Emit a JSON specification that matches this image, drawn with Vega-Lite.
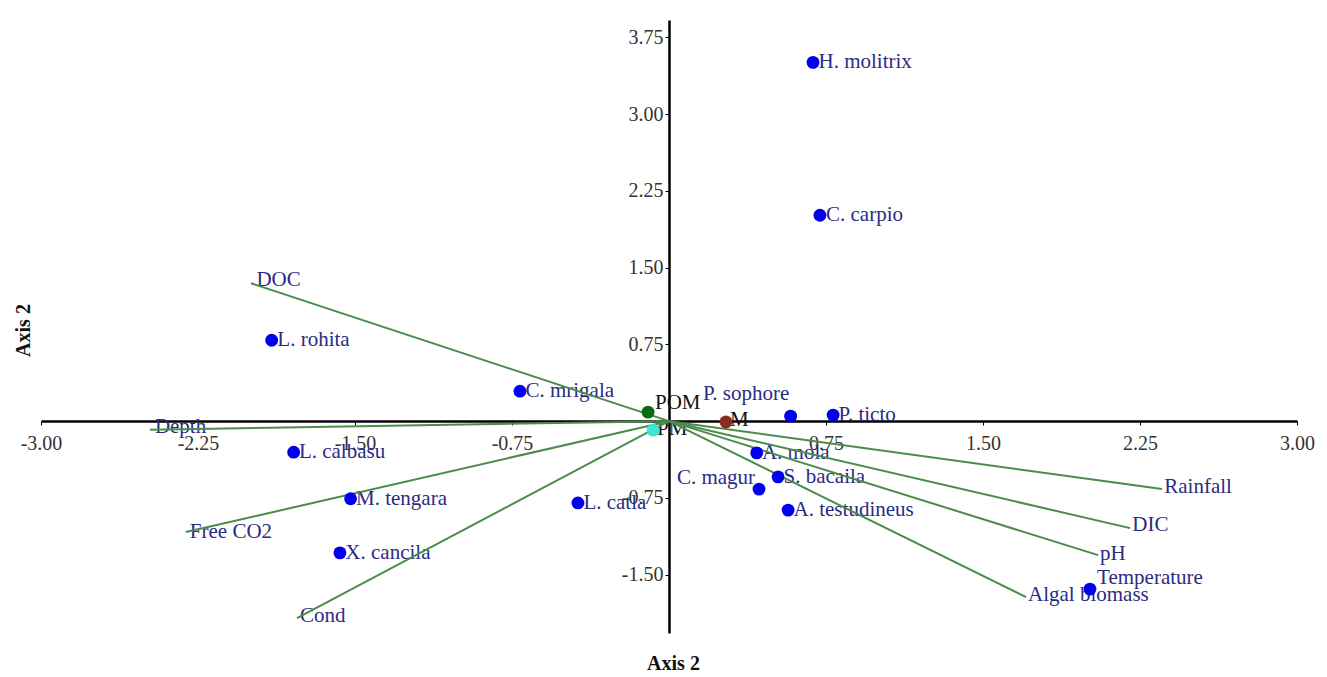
{
  "$schema": "https://vega.github.io/schema/vega-lite/v6.json",
  "width": 1256,
  "height": 613,
  "autosize": {"type": "none"},
  "padding": {"left": 41, "top": 20, "right": 30, "bottom": 44},
  "background": "white",
  "config": {"view": {"stroke": null}, "font": "Liberation Serif"},
  "datasets": {
    "vectors": [
      {"name": "DOC", "x": -1.997, "y": 1.348},
      {"name": "Depth", "x": -2.48, "y": -0.085},
      {"name": "Free CO2", "x": -2.308, "y": -1.084},
      {"name": "Cond", "x": -1.777, "y": -1.924},
      {"name": "Rainfall", "x": 2.355, "y": -0.664},
      {"name": "DIC", "x": 2.203, "y": -1.045},
      {"name": "pH", "x": 2.05, "y": -1.309},
      {"name": "Algal biomass", "x": 1.706, "y": -1.719}
    ],
    "species": [
      {"name": "H. molitrix", "x": 0.688, "y": 3.506},
      {"name": "C. carpio", "x": 0.721, "y": 2.012},
      {"name": "L. rohita", "x": -1.898, "y": 0.791},
      {"name": "C. mrigala", "x": -0.712, "y": 0.293},
      {"name": "P. sophore", "x": 0.581, "y": 0.049},
      {"name": "P. ticto", "x": 0.784, "y": 0.059},
      {"name": "A. mola", "x": 0.419, "y": -0.31},
      {"name": "S. bacaila", "x": 0.521, "y": -0.544},
      {"name": "C. magur", "x": 0.43, "y": -0.664},
      {"name": "A. testudineus", "x": 0.569, "y": -0.869},
      {"name": "L. calbasu", "x": -1.793, "y": -0.303},
      {"name": "M. tengara", "x": -1.521, "y": -0.758},
      {"name": "X. cancila", "x": -1.572, "y": -1.287},
      {"name": "L. catla", "x": -0.435, "y": -0.799},
      {"name": "Temperature", "x": 2.011, "y": -1.641}
    ],
    "sources": [
      {"name": "POM", "x": -0.1, "y": 0.088},
      {"name": "PM", "x": -0.076, "y": -0.088},
      {"name": "M", "x": 0.272, "y": -0.007}
    ],
    "labels": [
      {"text": "H. molitrix", "group": "species", "x": 0.714, "y": 3.506},
      {"text": "C. carpio", "group": "species", "x": 0.75, "y": 2.012},
      {"text": "L. rohita", "group": "species", "x": -1.871, "y": 0.791},
      {"text": "C. mrigala", "group": "species", "x": -0.686, "y": 0.293},
      {"text": "P. sophore", "group": "species", "x": 0.162, "y": 0.264},
      {"text": "P. ticto", "group": "species", "x": 0.81, "y": 0.059},
      {"text": "A. mola", "group": "species", "x": 0.444, "y": -0.31},
      {"text": "S. bacaila", "group": "species", "x": 0.547, "y": -0.544},
      {"text": "C. magur", "group": "species", "x": 0.038, "y": -0.554},
      {"text": "A. testudineus", "group": "species", "x": 0.595, "y": -0.869},
      {"text": "L. calbasu", "group": "species", "x": -1.768, "y": -0.303},
      {"text": "M. tengara", "group": "species", "x": -1.495, "y": -0.758},
      {"text": "X. cancila", "group": "species", "x": -1.546, "y": -1.287},
      {"text": "L. catla", "group": "species", "x": -0.409, "y": -0.799},
      {"text": "Temperature", "group": "species", "x": 2.045, "y": -1.533},
      {"text": "DOC", "group": "vector", "x": -1.971, "y": 1.377},
      {"text": "Depth", "group": "vector", "x": -2.456, "y": -0.059},
      {"text": "Free CO2", "group": "vector", "x": -2.289, "y": -1.084},
      {"text": "Cond", "group": "vector", "x": -1.763, "y": -1.904},
      {"text": "Rainfall", "group": "vector", "x": 2.366, "y": -0.645},
      {"text": "DIC", "group": "vector", "x": 2.213, "y": -1.016},
      {"text": "pH", "group": "vector", "x": 2.059, "y": -1.299},
      {"text": "Algal biomass", "group": "vector", "x": 1.715, "y": -1.699},
      {"text": "POM", "group": "source", "x": -0.067, "y": 0.176},
      {"text": "PM", "group": "source", "x": -0.057, "y": -0.078},
      {"text": "M", "group": "source", "x": 0.291, "y": 0.01}
    ]
  },
  "encoding": {
    "x": {
      "field": "x",
      "type": "quantitative",
      "scale": {"domain": [-3, 3], "nice": false, "zero": false},
      "axis": {
        "offset": -212,
        "values": [-3, -2.25, -1.5, -0.75, 0, 0.75, 1.5, 2.25, 3],
        "labelExpr": "datum.value === 0 ? '' : replace(format(datum.value, '.2f'), '\u2212', '-')",
        "grid": false,
        "domainColor": "#000000",
        "domainWidth": 2.5,
        "tickColor": "#000000",
        "tickSize": 4,
        "labelPadding": 8,
        "labelFont": "Liberation Serif",
        "labelFontSize": 20,
        "labelColor": "#333333",
        "labelAngle": 0,
        "labelOverlap": false,
        "labelFlush": false,
        "labelBound": false,
        "title": "Axis 2",
        "titleFont": "Liberation Serif",
        "titleFontSize": 20,
        "titleFontWeight": "bold",
        "titleColor": "#111111",
        "titleX": 632,
        "titleY": 242,
        "titleAlign": "center",
        "titleBaseline": "middle"
      }
    },
    "y": {
      "field": "y",
      "type": "quantitative",
      "scale": {"domain": [-2.07, 3.92], "nice": false, "zero": false},
      "axis": {
        "offset": -628,
        "values": [-1.5, -0.75, 0, 0.75, 1.5, 2.25, 3, 3.75],
        "labelExpr": "datum.value === 0 ? '' : replace(format(datum.value, '.2f'), '\u2212', '-')",
        "grid": false,
        "domainColor": "#000000",
        "domainWidth": 2.5,
        "tickColor": "#000000",
        "tickSize": 4,
        "labelPadding": 2,
        "labelFont": "Liberation Serif",
        "labelFontSize": 20,
        "labelColor": "#333333",
        "labelOverlap": false,
        "labelFlush": false,
        "labelBound": false,
        "title": "Axis 2",
        "titleFont": "Liberation Serif",
        "titleFontSize": 20,
        "titleFontWeight": "bold",
        "titleColor": "#111111",
        "titleX": -646,
        "titleY": 310,
        "titleAngle": -90,
        "titleAlign": "center",
        "titleBaseline": "middle"
      }
    }
  },
  "resolve": {"scale": {"color": "independent"}},
  "layer": [
    {
      "data": {"name": "labels"},
      "mark": {"type": "text", "align": "left", "baseline": "middle", "font": "Liberation Serif", "fontSize": 21},
      "encoding": {
        "text": {"field": "text", "type": "nominal"},
        "color": {
          "field": "group",
          "type": "nominal",
          "scale": {"domain": ["species", "vector", "source"], "range": ["#2b2b82", "#2b2b82", "#111111"]},
          "legend": null
        }
      }
    },
    {
      "data": {"name": "vectors"},
      "mark": {"type": "rule", "color": "#4a8c4a", "strokeWidth": 2},
      "encoding": {
        "x2": {"datum": 0},
        "y2": {"datum": 0}
      }
    },
    {
      "data": {"name": "sources"},
      "mark": {"type": "circle", "size": 165, "opacity": 1},
      "encoding": {
        "color": {
          "field": "name",
          "type": "nominal",
          "scale": {"domain": ["POM", "PM", "M"], "range": ["#0b6b12", "#3de6d6", "#8a2c1e"]},
          "legend": null
        }
      }
    },
    {
      "data": {"name": "species"},
      "mark": {"type": "circle", "size": 165, "opacity": 1, "color": "#0000ee"},
      "encoding": {}
    }
  ]
}
